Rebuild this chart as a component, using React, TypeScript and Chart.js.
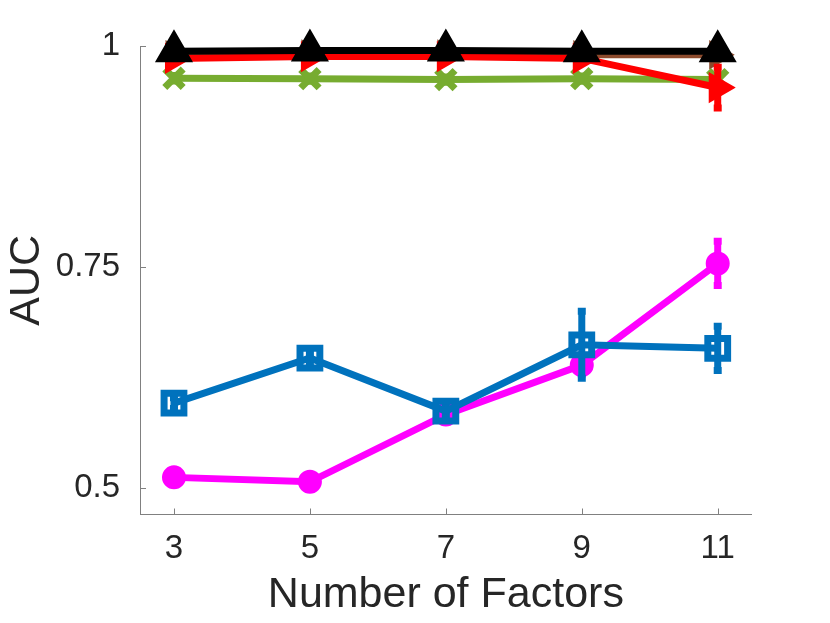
import React, { useEffect, useRef } from "react";
import { Chart, registerables } from "chart.js";

Chart.register(...registerables);

// number of factors on the x axis
const factors = [3, 5, 7, 9, 11];
const xTicks = [3, 5, 7, 9, 11];
const yTicks = [0.5, 0.75, 1];

// AUC per method
const blackAuc = [0.994, 0.995, 0.995, 0.994, 0.994];
const redAuc = [0.986, 0.988, 0.988, 0.986, 0.953];
const redErr = [0.004, 0.003, 0.003, 0.004, 0.023];
const brownAuc = [0.99, 0.991, 0.991, 0.99, 0.99];
const brownErr = [0.003, 0.003, 0.003, 0.003, 0.003];
const greenAuc = [0.9635, 0.963, 0.962, 0.963, 0.962];
const greenErr = [0.003, 0.003, 0.003, 0.003, 0.003];
const blueAuc = [0.596, 0.647, 0.587, 0.662, 0.658];
const blueErr = [0.006, 0.006, 0.006, 0.038, 0.025];
const magentaAuc = [0.512, 0.507, 0.583, 0.639, 0.754];
const magentaErr = [0.004, 0.004, 0.005, 0.01, 0.025];

const FONT = "'Liberation Sans', Arial, Helvetica, sans-serif";
const AXIS_COLOR = "#808080";
const TEXT_COLOR = "#262626";

const toPoints = (ys: number[]) => factors.map((x, i) => ({ x, y: ys[i] }));

// vertical error bars, drawn under each line
const errorBarPlugin = {
  id: "errorBars",
  beforeDatasetDraw(chart: any, args: any) {
    const ds: any = chart.data.datasets[args.index];
    if (!ds.errors) return;
    const { ctx, scales } = chart;
    ctx.save();
    ctx.strokeStyle = ds.borderColor;
    ctx.lineWidth = ds.borderWidth;
    ds.data.forEach((p: { x: number; y: number }, i: number) => {
      const e = ds.errors[i];
      const px = scales.x.getPixelForValue(p.x);
      const top = scales.y.getPixelForValue(p.y + e);
      const bot = scales.y.getPixelForValue(p.y - e);
      ctx.beginPath();
      ctx.moveTo(px, top);
      ctx.lineTo(px, bot);
      ctx.moveTo(px - 4, top);
      ctx.lineTo(px + 4, top);
      ctx.moveTo(px - 4, bot);
      ctx.lineTo(px + 4, bot);
      ctx.stroke();
    });
    ctx.restore();
  },
};

// matlab style tick marks pointing into the axes
const innerTicksPlugin = {
  id: "innerTicks",
  afterDraw(chart: any) {
    const { ctx, chartArea, scales } = chart;
    ctx.save();
    ctx.strokeStyle = AXIS_COLOR;
    ctx.lineWidth = 1;
    ctx.beginPath();
    xTicks.forEach((v) => {
      const px = Math.round(scales.x.getPixelForValue(v)) + 0.5;
      ctx.moveTo(px, chartArea.bottom);
      ctx.lineTo(px, chartArea.bottom - 6);
    });
    yTicks.forEach((v) => {
      const py = Math.round(scales.y.getPixelForValue(v)) + 0.5;
      ctx.moveTo(chartArea.left, py);
      ctx.lineTo(chartArea.left + 6, py);
    });
    ctx.stroke();
    ctx.restore();
  },
};

const App = () => {
  const canvasRef = useRef<HTMLCanvasElement | null>(null);

  useEffect(() => {
    if (!canvasRef.current) return;

    const chart = new Chart(canvasRef.current, {
      type: "line",
      data: {
        datasets: [
          {
            label: "black",
            data: toPoints(blackAuc),
            borderColor: "#000000",
            backgroundColor: "#000000",
            borderWidth: 7,
            pointStyle: "triangle",
            pointRadius: 20,
            pointBorderWidth: 2,
            clip: false,
          },
          {
            label: "red",
            data: toPoints(redAuc),
            errors: redErr,
            borderColor: "#ff0000",
            backgroundColor: "#ff0000",
            borderWidth: 7,
            pointStyle: "triangle",
            pointRotation: 90,
            pointRadius: 16,
            pointBorderWidth: 2,
            clip: false,
          },
          {
            label: "brown",
            data: toPoints(brownAuc),
            errors: brownErr,
            borderColor: "#8c4b2d",
            backgroundColor: "#8c4b2d",
            borderWidth: 7,
            pointStyle: "triangle",
            pointRotation: 90,
            pointRadius: 15,
            pointBorderWidth: 2,
            clip: false,
          },
          {
            label: "green",
            data: toPoints(greenAuc),
            errors: greenErr,
            borderColor: "#77ac30",
            backgroundColor: "#77ac30",
            borderWidth: 7,
            pointStyle: "crossRot",
            pointRadius: 13,
            pointBorderWidth: 7,
            clip: false,
          },
          {
            label: "blue",
            data: toPoints(blueAuc),
            errors: blueErr,
            borderColor: "#0072bd",
            backgroundColor: "rgba(0,0,0,0)",
            borderWidth: 7,
            pointStyle: "rect",
            pointRadius: 14,
            pointBorderWidth: 7,
            clip: false,
          },
          {
            label: "magenta",
            data: toPoints(magentaAuc),
            errors: magentaErr,
            borderColor: "#ff00ff",
            backgroundColor: "#ff00ff",
            borderWidth: 7,
            pointStyle: "circle",
            pointRadius: 10.5,
            pointBorderWidth: 3,
            clip: false,
          },
        ] as any,
      },
      options: {
        responsive: false,
        animation: false,
        layout: { padding: { top: 46, right: 78.3, left: 0, bottom: 0 } },
        plugins: {
          legend: { display: false },
          tooltip: { enabled: false },
        },
        scales: {
          x: {
            type: "linear",
            min: 2.5,
            max: 11.5,
            afterBuildTicks: (scale: any) => {
              scale.ticks = xTicks.map((v) => ({ value: v }));
            },
            afterFit: (scale: any) => {
              scale.height = 108.5;
            },
            grid: { display: false },
            border: { display: true, color: AXIS_COLOR, width: 1 },
            ticks: {
              color: TEXT_COLOR,
              font: { family: FONT, size: 33 },
              padding: 7,
              maxRotation: 0,
              autoSkip: false,
              callback: (v: any) => String(v),
            },
            title: {
              display: true,
              text: "Number of Factors",
              color: TEXT_COLOR,
              font: { family: FONT, size: 43 },
              padding: { top: 0, bottom: 2 },
            },
          },
          y: {
            type: "linear",
            min: 0.47,
            max: 1,
            afterBuildTicks: (scale: any) => {
              scale.ticks = yTicks.map((v) => ({ value: v }));
            },
            afterFit: (scale: any) => {
              scale.width = 140;
            },
            grid: { display: false },
            border: { display: true, color: AXIS_COLOR, width: 1 },
            ticks: {
              color: TEXT_COLOR,
              font: { family: FONT, size: 33 },
              padding: 12,
              autoSkip: false,
              callback: (v: any) => String(v),
            },
            title: {
              display: true,
              text: "AUC",
              color: TEXT_COLOR,
              font: { family: FONT, size: 43 },
              padding: { top: 1, bottom: 0 },
            },
          },
        },
      },
      plugins: [errorBarPlugin, innerTicksPlugin],
    });

    return () => {
      chart.destroy();
    };
  }, []);

  return (
    <div style={{ position: "absolute", left: 0, top: 0, width: 830, height: 623, background: "#ffffff" }}>
      <canvas ref={canvasRef} width={830} height={623} />
    </div>
  );
};

export default App;
